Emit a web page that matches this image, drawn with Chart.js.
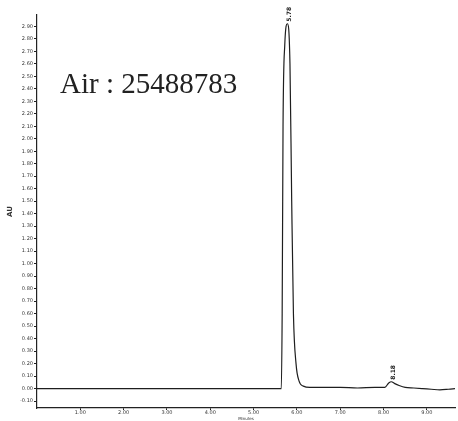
<!DOCTYPE html>
<html>
<head>
<meta charset="utf-8">
<script src="https://cdn.jsdelivr.net/npm/chart.js@4"></script>
<style>
  body { margin: 0; background: #fff; }
  #wrap { width: 458px; height: 421px; }
</style>
</head>
<body>
<div id="wrap"><canvas id="chromChart" width="458" height="421"></canvas></div>
<script>
        // Chromatogram data (minutes / AU)
        const times = [0, 0.5, 1.0, 1.5, 2.0, 2.5, 3.0, 3.5, 4.0, 4.5, 5.0, 5.4, 5.64, 5.66, 5.68, 5.72, 5.78, 5.84, 5.88, 5.92, 5.98, 6.05, 6.15, 6.3, 6.6, 7.0, 7.4, 7.8, 8.03, 8.12, 8.18, 8.26, 8.36, 8.5, 8.7, 8.9, 9.1, 9.3, 9.5, 9.65];
        const signal = [0.00, 0.00, 0.00, 0.00, 0.00, 0.00, 0.00, 0.00, 0.00, 0.00, 0.00, 0.00, 0.00, 0.60, 2.10, 2.75, 2.92, 2.60, 1.50, 0.60, 0.20, 0.06, 0.02, 0.01, 0.01, 0.01, 0.005, 0.01, 0.01, 0.045, 0.055, 0.04, 0.025, 0.01, 0.005, 0.00, -0.005, -0.01, -0.005, 0.00];

        // Peak retention time labels
        const peakTimes = [5.78, 8.18];

        // Axis ticks
        const xTicks = [1.00, 2.00, 3.00, 4.00, 5.00, 6.00, 7.00, 8.00, 9.00];
        const yTicks = [];
        for (let i = -1; i <= 29; i++) yTicks.push(Math.round(i * 10) / 100);

        const sampleText = 'Air : 25488783';

        // Overlay text and peak labels
        const annotations = {
            id: 'annotations',
            afterDatasetsDraw(chart) {
                const ctx = chart.ctx;
                const xs = chart.scales.x, ys = chart.scales.y;
                ctx.save();
                ctx.fillStyle = '#222';
                ctx.font = '29px "Liberation Serif", "Times New Roman", serif';
                ctx.textBaseline = 'alphabetic';
                ctx.fillText(sampleText, 60, 93);

                ctx.font = 'bold 6px "DejaVu Sans", sans-serif';
                peakTimes.forEach(t => {
                    const idx = times.indexOf(t);
                    const px = xs.getPixelForValue(t);
                    const py = ys.getPixelForValue(signal[idx]);
                    ctx.save();
                    ctx.translate(px + 2, py - 2);
                    ctx.rotate(-Math.PI / 2);
                    ctx.textAlign = 'left';
                    ctx.textBaseline = 'middle';
                    ctx.fillText(t.toFixed(2), 0, 0);
                    ctx.restore();
                });
                ctx.restore();
            }
        };

        const tickFont = { family: '"DejaVu Sans", sans-serif', size: 5 };

        new Chart(document.getElementById('chromChart').getContext('2d'), {
            type: 'line',
            data: {
                datasets: [{
                    label: 'Signal',
                    data: times.map((t, i) => ({ x: t, y: signal[i] })),
                    borderColor: '#1e1e1e',
                    borderWidth: 1.2,
                    pointRadius: 0,
                    cubicInterpolationMode: 'monotone',
                    fill: false
                }]
            },
            options: {
                responsive: false,
                animation: false,
                layout: { padding: { top: 15, right: 3, left: 0, bottom: 0 } },
                plugins: {
                    legend: { display: false },
                    tooltip: { enabled: false }
                },
                scales: {
                    x: {
                        type: 'linear',
                        min: 0,
                        max: 9.65,
                        afterBuildTicks: scale => { scale.ticks = xTicks.map(v => ({ value: v })); },
                        afterFit: scale => { scale.height = 13; },
                        border: { color: '#222', width: 1.3 },
                        grid: { drawOnChartArea: false, drawTicks: true, tickLength: 2, color: '#222' },
                        ticks: {
                            font: tickFont,
                            color: '#333',
                            padding: 0,
                            maxRotation: 0,
                            autoSkip: false,
                            callback: v => v.toFixed(2)
                        },
                        title: {
                            display: true,
                            text: 'Minutes',
                            font: { family: '"DejaVu Sans", sans-serif', size: 4 },
                            color: '#333',
                            padding: 0
                        }
                    },
                    y: {
                        min: -0.155,
                        max: 2.99,
                        afterBuildTicks: scale => { scale.ticks = yTicks.map(v => ({ value: v })); },
                        afterFit: scale => { scale.width = 37; },
                        border: { color: '#222', width: 1.2 },
                        grid: { drawOnChartArea: false, drawTicks: true, tickLength: 3, color: '#222' },
                        ticks: {
                            font: tickFont,
                            color: '#333',
                            padding: 1,
                            autoSkip: false,
                            callback: v => v.toFixed(2)
                        },
                        title: {
                            display: true,
                            text: 'AU',
                            font: { family: '"DejaVu Sans", sans-serif', size: 7, weight: 'bold' },
                            color: '#333',
                            padding: { top: 6, bottom: 0 }
                        }
                    }
                }
            },
            plugins: [annotations]
        });
</script>
</body>
</html>
